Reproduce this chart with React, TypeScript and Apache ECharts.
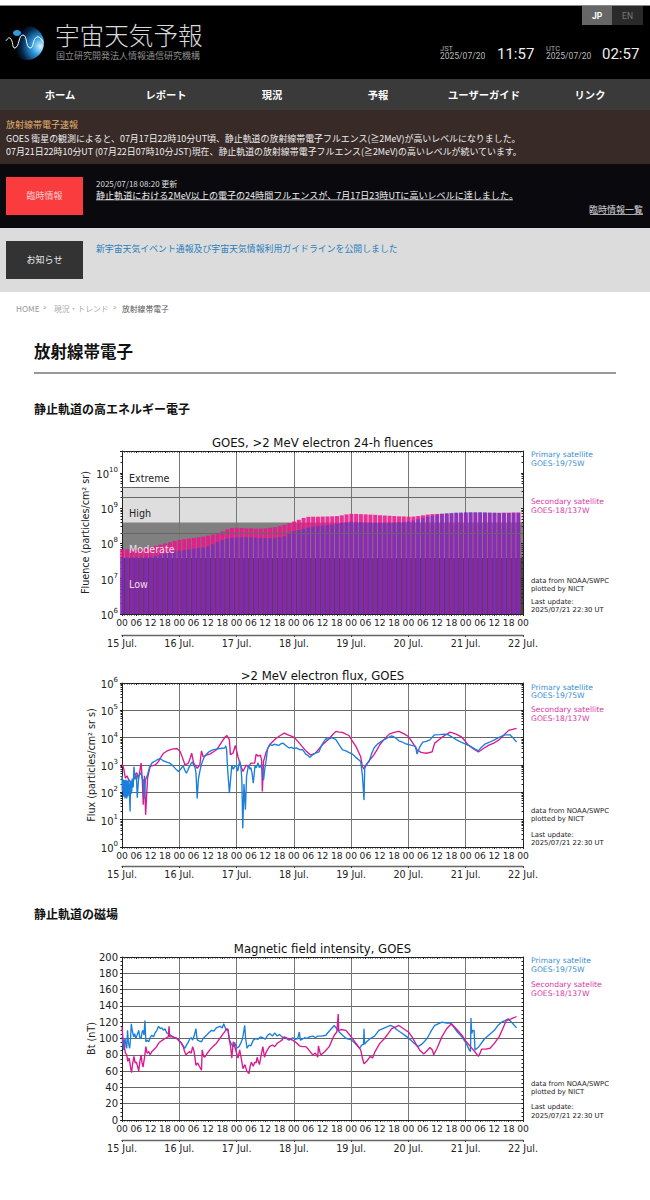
import React, { useEffect, useRef } from "react";
import * as echarts from "echarts";

const hourLabels = ["00", "06", "12", "18"];
const dayLabels = ["15 Jul.", "16 Jul.", "17 Jul.", "18 Jul.", "19 Jul.", "20 Jul.", "21 Jul.", "22 Jul."];

// 24-h fluence, one bar every 2 h from 00 UT on 15 Jul. (values in 1e8)
const fluenceSecondary = [
  .69,.68,.66,.66,.68,.72, .78,.84,.92,1.0,1.08,1.18,
  1.26,1.32,1.38,1.44,1.5,1.56, 1.66,1.8,2.0,2.2,2.5,2.75,
  2.8,2.75,2.7,2.7,2.65,2.65, 2.7,2.8,2.9,3.1,3.4,3.8,
  4.2,4.7,5.3,5.7,5.75,5.75, 5.8,5.85,5.9,6.0,6.3,6.7,
  6.9,6.9,6.8,6.7,6.6,6.5, 6.3,6.2,6.1,6.0,5.9,5.85,
  5.75,5.8,6.0,6.3,6.6,6.8, 6.9,7.0,7.1,7.2,7.3,7.4,
  7.5,7.5,7.5,7.5,7.5,7.4, 7.4,7.4,7.5,7.5,7.6,7.6,
];
const fluencePrimary = [
  .40,.40,.40,.40,.40,.41, .42,.44,.48,.52,.56,.59,
  .62,.65,.68,.71,.74,.77, .83,.95,1.1,1.25,1.38,1.45,
  1.48,1.5,1.5,1.48,1.46,1.44, 1.42,1.42,1.42,1.5,1.6,1.9,
  2.2,2.4,2.6,2.8,3.0,3.1, 3.2,3.3,3.4,3.6,3.8,4.0,
  4.2,4.1,4.0,3.9,3.9,3.85, 3.85,3.85,3.85,3.9,4.0,4.1,
  4.2,4.5,4.9,5.3,5.7,6.1, 6.5,6.9,7.2,7.4,7.6,7.6,
  7.7,7.8,7.8,7.8,7.7,7.6, 7.5,7.4,7.3,7.3,7.3,7.3,
];

// Flux: [hours since 15 Jul. 00 UT, particles/cm2 sr s]
const fluxPrimary = [
  [0,400],[0.1,130],[0.2,110],[0.35,300],[0.5,250],[0.65,70],[0.8,90],[0.95,280],[1.1,230],[1.25,60],[1.4,75],[1.55,290],[1.7,260],[1.85,80],[2,60],[2.15,270],[2.3,240],[2.45,70],[2.6,100],[2.75,310],[2.9,280],[3.1,90],[3.4,20],[3.55,200],[3.7,260],[3.9,90],[4.1,120],[4.3,320],[4.5,280],[4.7,150],
  [5,870],[5.5,300],[6,420],[6.4,63],[7,400],[8,520],[8.6,280],[8.9,300],[9.3,60],[9.8,280],[10.7,440],[11.5,800],[12.5,1170],[13.2,1300],[14,1400],[14.7,1550],[15.3,1650],[16,1700],[16.7,1550],[17.4,1400],[18,1350],[19,1250],[20,1170],[21,1000],[22,800],[23,650],[23.6,580],[24.2,640],[24.6,700],[25.2,850],[25.7,890],[26.3,650],[27,500],[27.5,620],[28,800],[28.5,950],[29,1170],[29.5,1300],[30,1000],[30.6,800],[31,500],[31.5,60],[32,300],[32.6,580],[33.2,1000],[33.7,1350],[34.5,2000],[35.4,2500],[36.6,3100],[38,3600],[39.5,3800],[41,4000],[42,4100],[43,4200],[43.5,5000],[43.8,3800],[44.3,600],[45,93],[45.5,300],[46,1000],[46.6,700],[47,800],[47.5,950],[48,890],[48.5,600],[49.3,1400],[49.8,900],[50.2,300],[50.6,4.8],[51.1,200],[51.7,23],[52.2,400],[53,1000],[53.6,700],[54,800],[54.5,500],[55,215],[55.7,900],[56.3,800],[57,1200],[57.5,800],[58,1000],[58.6,700],[59,580],[59.3,280],[59.9,800],[60.4,1500],[61,4000],[62,5500],[63,5200],[64,5800],[64.6,5500],[65.7,5200],[66.6,6000],[67.4,6300],[68.5,5300],[70,4200],[71,4400],[72,4000],[73,4200],[74.3,3700],[75.7,3600],[77,2500],[78,2200],[78.8,1900],[80,2400],[81,2700],[82.5,3000],[83.5,5000],[84.5,7000],[85.4,9100],[86.5,8800],[88,10000],[89.6,8500],[91,5500],[92.4,3600],[93.8,3300],[95,2900],[96.5,2500],[98,1900],[100,1350],[100.7,440],[101.4,52],[101.7,900],[103.5,1350],[104.5,2500],[105.6,4200],[107,5800],[109,7700],[111,9500],[113,11700],[114.5,10000],[116,7700],[117.5,6800],[118.8,6000],[121,5300],[123,4800],[123.6,2500],[124.7,4500],[126,6900],[127.5,7300],[129,8300],[130,10500],[131,12700],[133,13000],[135,13500],[136.5,13000],[138,11000],[140,8500],[142,6900],[144,5800],[146,4800],[147.8,3900],[149.3,3300],[150.5,4400],[152,5800],[154,6800],[156,8300],[158,10300],[160.4,12700],[162.5,12700],[164,9500],[165.3,6900],
];
const fluxSecondary = [
  [0,1100],[0.7,760],[1.4,330],[2.1,400],[2.8,290],[3.8,240],[4.9,290],[5.5,440],[6.2,520],[6.9,300],[8,1170],[8.5,300],[8.9,35],[9.4,400],[9.9,15],[10.7,330],[11.8,890],[12.8,950],[13.9,1000],[14.6,1150],[15.3,1350],[16.4,2000],[17.4,2700],[18.7,3200],[20,3600],[21.5,3900],[23,4000],[24.3,3200],[25.3,1900],[26.4,1000],[27.8,1170],[28.6,1800],[29.2,2700],[30,1200],[31.5,760],[32.6,1000],[33.3,3300],[34,2000],[35.3,2300],[36.8,2500],[38.2,3000],[39.6,3600],[41,5500],[42.4,8300],[43.3,10800],[44,12000],[45,8300],[45.4,2400],[46.5,2700],[47.5,5200],[48.6,2000],[49.6,1000],[50.7,580],[52,1000],[53,850],[54,1170],[55.6,1170],[56.2,2500],[57,2100],[58,2300],[58.5,1500],[58.8,107],[59.3,1350],[60.4,3000],[61.8,5500],[63.2,7300],[64.6,9500],[66.3,12000],[68,14600],[69.8,12300],[71.5,11000],[73,8500],[74.3,6300],[75.7,4500],[77,3300],[79,2300],[80,2500],[81,2700],[82.5,3900],[84,5500],[85.5,7300],[87,9500],[88.3,13000],[89.6,17000],[91,16000],[92.4,15500],[93.8,13500],[95.1,12000],[96.5,7500],[98,4800],[99,3100],[100,2000],[100.7,890],[101.4,700],[102.8,1170],[104.2,1700],[105.6,2400],[107,3800],[108,5500],[110,9000],[112,13500],[114,15500],[116,17000],[118,14000],[120,11000],[122,6000],[123.6,3600],[125.3,2900],[127,2700],[128.5,2800],[129.9,3000],[131,6300],[132.5,8000],[134,10200],[135.8,13000],[137.5,16000],[140,13500],[142,11000],[143.5,8000],[145,5500],[147,4000],[149.3,3000],[151.4,4000],[153.5,5200],[156,6500],[158,8300],[160,12500],[162,18500],[163.6,20000],[165.3,22000],
];

// Magnetic field: [hours since 15 Jul. 00 UT, nT]
const btPrimary = [
  [0,102],[0.4,92],[0.7,86],[1,96],[1.3,100],[1.7,90],[2,88],[2.3,110],[2.7,95],[3.2,88],[3.6,100],[3.9,118],[4.3,110],[4.9,102],[5.3,106],[5.8,100],[6.3,104],[7,110],[7.5,101],[8,100],[8.4,108],[8.8,110],[9.2,104],[9.6,122],[10,96],[10.6,98],[11.2,96],[11.8,101],[12.5,104],[13.2,102],[13.9,107],[14.6,110],[15.3,115],[16,112],[16.7,113],[17.4,110],[18,112],[18.7,107],[19.4,106],[20.2,104],[21,103],[22,101],[23,100],[24,97],[24.5,96],[25.2,92],[26.4,88],[27,92],[27.5,94],[28,97],[28.5,100],[29,101],[29.6,98],[30.2,103],[31,112],[31.3,103],[31.6,98],[32.3,97],[33.3,96],[34,100],[35.4,104],[36.4,107],[37.5,110],[38.5,109],[39.5,113],[41,115],[42,113],[42.6,118],[43.7,110],[44.4,112],[45,98],[45.7,94],[46.5,90],[47.2,95],[48,88],[49,90],[49.7,94],[50.5,100],[51,108],[51.4,116],[51.8,100],[52.4,88],[53.2,92],[54,91],[55,98],[56,100],[57,99],[58,102],[59,101],[60,99],[61,104],[62,106],[63,103],[64,107],[65,103],[66,105],[67,102],[68.8,100],[70,98],[71.5,101],[72.5,99],[73.6,100],[74.3,108],[74.7,98],[75.5,99],[76.5,101],[77.5,100],[78.5,102],[80,103],[81,101],[82,103],[83.5,103],[85.4,104],[86.5,108],[87.7,112],[88.9,116],[90,112],[91,108],[92.4,104],[94,100],[95.5,99],[97,96],[98.3,92],[99.6,88],[100.4,92],[101.2,93],[101.4,112],[101.6,93],[102.5,96],[104,100],[105.8,103],[107.6,110],[110,113],[112.5,116],[114,114],[115,111],[117,107],[119.4,102],[121,98],[122.5,94],[124,90],[126,94],[127.8,100],[129.3,108],[131,116],[132.5,118],[134,120],[136,119],[137.5,119],[139,114],[140.5,108],[142.4,102],[144,95],[145.5,86],[146,84],[146.2,125],[146.5,106],[147,110],[147.5,110],[147.9,86],[149.5,90],[151,96],[152,100],[154,105],[156,110],[157.5,116],[159,120],[160.5,122],[161.8,124],[163.5,119],[165.3,113],
];
const btSecondary = [
  [0,114],[0.4,100],[1,90],[1.4,82],[2,80],[2.4,72],[3,76],[3.5,66],[4,58],[4.4,68],[5,78],[5.5,70],[6,71],[6.5,66],[7,60],[7.5,72],[8,80],[8.4,70],[8.8,65],[9.4,76],[10,90],[10.5,82],[11.2,84],[11.8,80],[12.5,84],[13.2,86],[13.9,88],[14.5,90],[15.3,94],[16,96],[17,98],[18,100],[19.4,102],[19.7,115],[20,102],[21,102],[22,101],[23,100],[24,97],[25,94],[25.7,90],[26.2,84],[26.8,80],[27.5,82],[28.3,84],[29,82],[29.6,90],[30.2,84],[31,67],[31.7,70],[32.4,66],[33.3,61],[33.6,86],[34.2,78],[34.7,77],[35.5,81],[36.8,86],[38,90],[39.5,94],[41,100],[42.4,106],[43,108],[43.7,112],[44.4,110],[45,98],[45.5,90],[46,76],[46.6,96],[47.2,90],[47.8,84],[48.6,76],[49.3,86],[50,75],[50.7,63],[51.5,68],[52.3,60],[53.2,57],[53.7,66],[54.2,71],[55,66],[55.6,71],[56.2,70],[56.6,77],[57.1,72],[57.6,68],[58.2,78],[59,90],[59.7,77],[60.5,84],[61.8,90],[63,92],[64,90],[65,94],[66,96],[67,98],[68,102],[69.5,100],[71.5,98],[73,95],[74.3,91],[75.5,90],[77,90],[78,87],[79.9,80],[81,82],[82,77],[82.3,91],[83,82],[83.4,80],[85,84],[86.8,90],[88,98],[88.9,104],[90,108],[90.6,130],[90.8,110],[92,111],[93.8,110],[95.5,104],[97,98],[98.5,92],[100,86],[100.7,76],[101.4,69],[102.5,72],[104,78],[105,76],[106,84],[108,94],[110,100],[111.5,106],[113,112],[114.5,114],[116,116],[118,112],[120,108],[121.5,102],[123,94],[124.7,86],[126.4,81],[127.5,84],[129,89],[130,86],[130.6,80],[132,88],[134,102],[136,112],[138,118],[140,112],[142.4,104],[144,97],[146,90],[147.5,85],[149.3,78],[150,82],[150.7,87],[152.5,87],[154.2,88],[156,94],[158,102],[159.5,112],[161,122],[163,124],[165.3,127],
];

const BLUE = "#1a7fdc";
const PINK = "#da188f";
const CHART_FONT = "DejaVu Sans";
const CJK = "'Noto Sans CJK JP', 'Noto Sans', sans-serif";
const LATIN = "Roboto, 'Noto Sans CJK JP', sans-serif";

function pow(value: number) {
  const e = Math.log10(value);
  if (Math.abs(e - Math.round(e)) > 1e-6) return "";
  return "{a|10}{b|" + Math.round(e) + "}";
}

const grids = [
  { left: 122, width: 401, top: 451, height: 163 },
  { left: 122, width: 401, top: 683, height: 164 },
  { left: 122, width: 401, top: 957, height: 163 },
];

function xAxes(gridIndex: number, offset: number) {
  const base = { type: "value", gridIndex, min: 0, max: 168 };
  return [
    {
      ...base, position: "bottom", interval: 6, z: 2,
      axisLine: { show: true, onZero: false, lineStyle: { color: "#222", width: 1 } },
      axisTick: { show: true, length: 2, lineStyle: { color: "#222" } },
      minorTick: { show: true, splitNumber: 6, length: 1.5, lineStyle: { color: "#222" } },
      axisLabel: { show: true, margin: 4, fontSize: 9.2, fontFamily: CHART_FONT, color: "#222", hideOverlap: false, showMinLabel: true, showMaxLabel: true, formatter: (v: number) => hourLabels[(v % 24) / 6] },
      splitLine: { show: false },
    },
    {
      ...base, position: "bottom", offset, interval: 24, z: 2,
      axisLine: { show: true, onZero: false, lineStyle: { color: "#666", width: 1.4 } },
      axisTick: { show: true, length: 2, lineStyle: { color: "#444" } },
      minorTick: { show: false },
      axisLabel: { show: true, margin: 3.5, fontSize: 9.6, fontFamily: CHART_FONT, color: "#222", showMinLabel: true, showMaxLabel: true, formatter: (v: number) => dayLabels[v / 24] },
      splitLine: { show: true, lineStyle: { color: "#777", width: 1 } },
    },
    {
      ...base, position: "top", interval: 6, z: 2,
      axisLine: { show: true, onZero: false, lineStyle: { color: "#222", width: 1 } },
      axisTick: { show: true, inside: true, length: 2, lineStyle: { color: "#222" } },
      minorTick: { show: true, splitNumber: 6, length: 1.5, lineStyle: { color: "#222" } },
      axisLabel: { show: false },
      splitLine: { show: false },
    },
  ];
}

function yAxes(gridIndex: number, cfg: any, nameGap: number, name: string, split: any, minor: any) {
  return [
    {
      ...cfg, gridIndex, position: "left", name, nameLocation: "middle", nameGap, nameMoveOverlap: false, z: 2,
      nameTextStyle: { fontSize: 9.6, fontFamily: CHART_FONT, color: "#222" },
      axisLine: { show: true, onZero: false, lineStyle: { color: "#222", width: 1 } },
      axisTick: { show: true, length: 2, lineStyle: { color: "#222" } },
      minorTick: minor,
      axisLabel: {
        show: true, margin: 4, fontSize: 10, fontFamily: CHART_FONT, color: "#222", showMinLabel: true,
        formatter: cfg.type === "log" ? pow : (v: number) => String(v),
        rich: {
          a: { fontSize: 10, fontFamily: CHART_FONT, color: "#222", lineHeight: 13, verticalAlign: "bottom" },
          b: { fontSize: 7, fontFamily: CHART_FONT, color: "#222", lineHeight: 8, verticalAlign: "top" },
        },
      },
      splitLine: split,
    },
    {
      ...cfg, gridIndex, position: "right", z: 2,
      axisLine: { show: true, onZero: false, lineStyle: { color: "#222", width: 1 } },
      axisTick: { show: true, inside: true, length: 2, lineStyle: { color: "#222" } },
      minorTick: minor,
      axisLabel: { show: false },
      splitLine: { show: false },
    },
  ];
}

function txt(x: number, y: number, text: string, size: number, fill: string, font: string, extra: any = {}) {
  return {
    type: "text", x, y, z: 20, silent: true,
    style: { text, fill, fontSize: size, fontFamily: font, fontWeight: extra.weight || "normal", align: extra.align || "left", verticalAlign: "middle", textAlign: extra.align || "left", textVerticalAlign: "middle" },
  };
}
function box(x: number, y: number, width: number, height: number, fill: string) {
  return { type: "rect", z: 1, silent: true, shape: { x, y, width, height }, style: { fill } };
}

function chrome() {
  const nav = ["ホーム", "レポート", "現況", "予報", "ユーザーガイド", "リンク"];
  return [
    box(0, 5, 650, 1, "#888"),
    box(0, 6, 650, 73, "#000000"),
    box(582, 6, 30, 19, "#666666"),
    box(612, 6, 31, 19, "#2a2a2a"),
    txt(597, 15.5, "JP", 8.5, "#ffffff", LATIN, { align: "center", weight: "bold" }),
    txt(627.5, 15.5, "EN", 8.5, "#777777", LATIN, { align: "center" }),
    {
      type: "ellipse", z: 2, silent: true, shape: { cx: 27, cy: 43, rx: 17, ry: 17 },
      style: { fill: new echarts.graphic.RadialGradient(0.9, 0.6, 0.75, [
        { offset: 0, color: "#d8f4ff" }, { offset: 0.35, color: "#2f9be0" }, { offset: 0.75, color: "#06284f" }, { offset: 1, color: "#000" },
      ]) },
    },
    { type: "ellipse", z: 2, silent: true, shape: { cx: 17, cy: 33, rx: 4, ry: 3 }, style: { fill: "#2f9be0" } },
    { type: "polyline", z: 3, silent: true, shape: { smooth: 0.6, points: [[6, 41], [10, 38], [15, 48], [23, 35], [30, 48], [37, 37], [43, 42]] }, style: { stroke: "#fff", fill: "none", lineWidth: 1 } },
    txt(55, 33.5, "宇宙天気予報", 24.6, "#d8d8d8", CJK, { weight: 200 }),
    txt(56, 55, "国立研究開発法人情報通信研究機構", 9, "#8c8c8c", CJK),
    txt(440, 48.5, "JST", 7.5, "#aaaaaa", LATIN),
    txt(440, 56, "2025/07/20", 8.5, "#bbbbbb", LATIN),
    txt(497, 54, "11:57", 15, "#eeeeee", LATIN),
    txt(546, 48.5, "UTC", 7.5, "#aaaaaa", LATIN),
    txt(546, 56, "2025/07/20", 8.5, "#bbbbbb", LATIN),
    txt(602, 54, "02:57", 15, "#eeeeee", LATIN),
    box(0, 79, 650, 31, "#3a3a3a"),
    ...nav.map((n, i) => txt(60 + 106 * i, 94, n, 10.3, "#ffffff", CJK, { align: "center", weight: "bold" })),
    box(0, 110, 650, 54, "#372a27"),
    txt(6, 124.5, "放射線帯電子速報", 9, "#e3b271", CJK),
    txt(6, 138.5, "GOES 衛星の観測によると、07月17日22時10分UT頃、静止軌道の放射線帯電子フルエンス(≧2MeV)が高いレベルになりました。", 8.93, "#eeeeee", CJK),
    txt(6, 151.5, "07月21日22時10分UT (07月22日07時10分JST)現在、静止軌道の放射線帯電子フルエンス(≧2MeV)の高いレベルが続いています。", 8.93, "#eeeeee", CJK),
    box(0, 164, 650, 64, "#0a0a0e"),
    box(6, 177, 77, 38, "#fb3c3e"),
    txt(44.5, 195.5, "臨時情報", 9, "#f4d0d0", CJK, { align: "center" }),
    txt(96, 183, "2025/07/18 08:20 更新", 8, "#dddddd", CJK),
    txt(96, 195.5, "静止軌道における2MeV以上の電子の24時間フルエンスが、7月17日23時UTに高いレベルに達しました。", 9.05, "#eeeeee", CJK),
    box(96, 199.5, 417, 0.8, "#eeeeee"),
    txt(643, 209.5, "臨時情報一覧", 9, "#dddddd", CJK, { align: "right" }),
    box(590, 214, 53, 0.8, "#dddddd"),
    box(0, 228, 650, 64, "#dcdcdc"),
    box(6, 241, 77, 38, "#333333"),
    txt(44.5, 259, "お知らせ", 9, "#eeeeee", CJK, { align: "center" }),
    txt(96, 248, "新宇宙天気イベント通報及び宇宙天気情報利用ガイドラインを公開しました", 8.88, "#2a7fbc", CJK),
    txt(16, 308, "HOME", 8.2, "#999999", CJK),
    txt(43, 307.5, ">", 7, "#aaaaaa", LATIN),
    txt(54, 308, "現況・トレンド", 7.8, "#aaaaaa", CJK),
    txt(113, 307.5, ">", 7, "#aaaaaa", LATIN),
    txt(122, 308, "放射線帯電子", 7.8, "#555555", CJK),
    txt(34, 350.5, "放射線帯電子", 16.5, "#111111", CJK, { weight: "bold" }),
    box(34, 372.5, 582, 1, "#333333"),
    txt(34, 408.5, "静止軌道の高エネルギー電子", 12, "#111111", CJK, { weight: "bold" }),
    txt(34, 913.5, "静止軌道の磁場", 12, "#111111", CJK, { weight: "bold" }),
  ];
}

function sideNotes(ys: number[], s1: string, s2: string) {
  const size = 7.6;
  const small = 6.85;
  const col = "#222222";
  return [
    txt(531, ys[0], s1, size, "#3a8fd2", CHART_FONT),
    txt(531, ys[1], "GOES-19/75W", size, "#3a8fd2", CHART_FONT),
    txt(531, ys[2], s2, size, "#d83aa8", CHART_FONT),
    txt(531, ys[3], "GOES-18/137W", size, "#d83aa8", CHART_FONT),
    txt(531, ys[4], "data from NOAA/SWPC", small, col, CHART_FONT),
    txt(531, ys[5], "plotted by NICT", small, col, CHART_FONT),
    txt(531, ys[6], "Last update:", small, col, CHART_FONT),
    txt(531, ys[7], "2025/07/21 22:30 UT", small, col, CHART_FONT),
  ];
}

function chartTexts() {
  const title = (y: number, s: string) => txt(322.5, y, s, 11.7, "#111111", CHART_FONT, { align: "center" });
  const band = (y: number, s: string, c: string) => txt(129, y, s, 9.6, c, CHART_FONT);
  return [
    title(443, "GOES, >2 MeV electron 24-h fluences"),
    title(675.5, ">2 MeV electron flux, GOES"),
    title(949, "Magnetic field intensity, GOES"),
    band(478, "Extreme", "#222222"),
    band(513, "High", "#222222"),
    band(549, "Moderate", "#f3dcea"),
    band(584, "Low", "#f3dcea"),
    ...sideNotes([454.5, 463, 501, 510, 581, 589, 602, 610], "Primary satellite", "Secondary satellite"),
    ...sideNotes([687, 695.5, 709.5, 718, 811, 819, 835, 843], "Primary satellite", "Secondary satellite"),
    ...sideNotes([960, 969, 984, 993, 1084, 1092, 1107, 1116], "Primary satelite", "Secondary satelite"),
  ];
}

const logMinor = { show: true, splitNumber: 9, length: 1.5, lineStyle: { color: "#222" } };
const linMinor = { show: true, splitNumber: 4, length: 1.5, lineStyle: { color: "#222" } };
const hLines = { show: true, lineStyle: { color: "#666", width: 1.2 } };

export default function App() {
  const ref = useRef<HTMLDivElement>(null);
  useEffect(() => {
    document.body.style.margin = "0";
    document.body.style.background = "#fff";
    const chart = echarts.init(ref.current!, undefined, { renderer: "svg" });
    const line = (name: string, data: number[][], color: string, idx: number, z: number) => ({
      name, type: "line", data, xAxisIndex: idx * 3, yAxisIndex: idx * 2, symbol: "none", z,
      lineStyle: { color, width: 1.35 }, itemStyle: { color }, silent: true,
    });
    chart.setOption({
      animation: false,
      backgroundColor: "#ffffff",
      grid: grids,
      xAxis: [...xAxes(0, 21), ...xAxes(1, 19), ...xAxes(2, 20)],
      yAxis: [
        ...yAxes(0, { type: "log", logBase: 10, min: 1e6, max: 4.2e10 }, 31.5, "Fluence (particles/cm² sr)", { show: false }, logMinor),
        ...yAxes(1, { type: "log", logBase: 10, min: 1, max: 1e6 }, 25.5, "Flux (particles/cm² sr s)", hLines, logMinor),
        ...yAxes(2, { type: "value", min: 0, max: 200, interval: 20 }, 25.5, "Bt (nT)", hLines, linMinor),
      ],
      series: [
        {
          name: "bands", type: "line", data: [], xAxisIndex: 0, yAxisIndex: 0, z: 1, silent: true, symbol: "none",
          markArea: {
            silent: true,
            data: [
              [{ yAxis: 1e6, itemStyle: { color: "#444444" } }, { yAxis: 4e7 }],
              [{ yAxis: 4e7, itemStyle: { color: "#808080" } }, { yAxis: 4e8 }],
              [{ yAxis: 4e8, itemStyle: { color: "#dedede" } }, { yAxis: 4e9 }],
            ],
          },
          markLine: {
            silent: true, symbol: "none", label: { show: false },
            lineStyle: { color: "#666", type: "solid", width: 1 },
            data: [{ yAxis: 2e8 }, { yAxis: 2e9 }, { yAxis: 4e9 }],
          },
        },
        {
          name: "GOES-18/137W fluence", type: "bar", xAxisIndex: 0, yAxisIndex: 0, z: 3, silent: true,
          barWidth: 4.0, barGap: "-100%",
          itemStyle: { color: "#f0108c", opacity: 0.85 },
          data: fluenceSecondary.map((v, i) => [i * 2, v * 1e8]),
        },
        {
          name: "GOES-19/75W fluence", type: "bar", xAxisIndex: 0, yAxisIndex: 0, z: 4, silent: true,
          barWidth: 3.6, barGap: "-100%",
          itemStyle: { color: "#2040e0", opacity: 0.5 },
          data: fluencePrimary.map((v, i) => [i * 2, v * 1e8]),
        },
        line("GOES-18/137W flux", fluxSecondary, PINK, 1, 3),
        line("GOES-19/75W flux", fluxPrimary, BLUE, 1, 4),
        line("GOES-19/75W Bt", btPrimary, BLUE, 2, 3),
        line("GOES-18/137W Bt", btSecondary, PINK, 2, 4),
      ],
      graphic: { elements: [...chrome(), ...chartTexts()] },
    });
    return () => chart.dispose();
  }, []);
  return <div ref={ref} style={{ position: "absolute", left: 0, top: 0, width: 650, height: 1200 }} />;
}
